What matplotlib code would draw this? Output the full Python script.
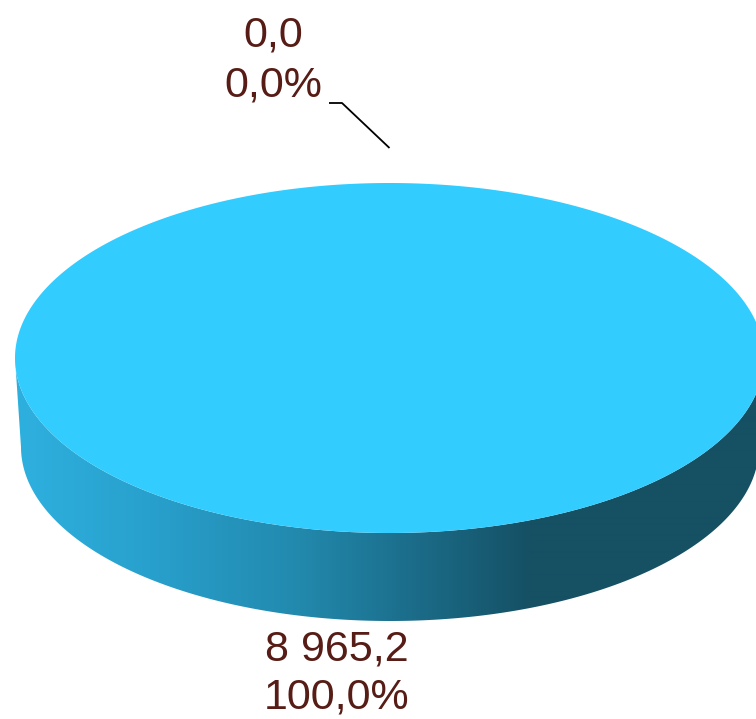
import numpy as np
import matplotlib
matplotlib.use("Agg")
import matplotlib.pyplot as plt
from matplotlib.patches import Polygon

# ---- data ----
categories = ["Slice 1", "Slice 2"]
values = [8965.2, 0.0]

def fmt_num(v):
    s = f"{v:,.1f}"
    return s.replace(",", " ").replace(".", ",")

def fmt_pct(p):
    return f"{p:.1f}%".replace(".", ",")

W, H = 756, 719
fig = plt.figure(figsize=(7.56, 7.19), dpi=100)
ax = fig.add_axes([0, 0, 1, 1])
ax.set_xlim(0, W)
ax.set_ylim(H, 0)
ax.axis("off")

# ---- geometry (pixel layout) ----
cx, cy, a, b = 389.5, 358.0, 374.5, 175.0      # top face ellipse
bcx, bcy, ba, bb = 390.0, 447.0, 369.0, 174.0  # bottom ellipse
top_color = "#33CCFF"
text_color = "#561C15"

def pt_top(th):
    r = np.radians(th)
    return cx + a * np.cos(r), cy - b * np.sin(r)

def pt_bot(th):
    r = np.radians(th)
    return bcx + ba * np.cos(r), bcy - bb * np.sin(r)

# side gradient image
stops_x = [0, 20, 150, 300, 400, 530, 756]
stops_c = np.array([(46, 176, 222), (46, 176, 222), (40, 160, 205), (34, 137, 173),
                    (28, 112, 142), (21, 80, 100), (22, 80, 99)]) / 255.0
xs = np.arange(W) + 0.5
grad = np.stack([np.interp(xs, stops_x, stops_c[:, k]) for k in range(3)], axis=-1)
grad_img = np.repeat(grad[None, :, :], 2, axis=0)

total = sum(values)
fracs = [v / total for v in values]
start = 90.0
cum = 0.0
label_specs = []
for v, f in zip(values, fracs):
    th1 = start - 360.0 * cum
    th2 = start - 360.0 * (cum + f)
    thm = (th1 + th2) / 2.0
    if f > 0:
        # side wall (front visible part: angles 180..360 -> equivalent -180..0)
        lo, hi = max(th2, -180.0), min(th1, 0.0)
        if hi > lo:
            ths = np.linspace(lo, hi, 300)
            top_arc = [pt_top(t) for t in ths]
            bot_arc = [pt_bot(t) for t in ths[::-1]]
            side = Polygon(top_arc + bot_arc, closed=True, facecolor="none",
                           edgecolor="none")
            ax.add_patch(side)
            im = ax.imshow(grad_img, extent=[0, W, H, 0], aspect="auto",
                           interpolation="bilinear", zorder=1)
            im.set_clip_path(side)
        # top face
        ths = np.linspace(th1, th2, 720)
        pts = [pt_top(t) for t in ths]
        if f < 0.9999:
            pts = [(cx, cy)] + pts
        ax.add_patch(Polygon(pts, closed=True, facecolor=top_color,
                             edgecolor="none", zorder=2))
    label_specs.append((v, f, thm))
    cum += f

# ---- labels ----
fs = 31
fam = ["Liberation Sans", "DejaVu Sans"]
for v, f, thm in label_specs:
    lines = [fmt_num(v), fmt_pct(f * 100)]
    if f > 0.5:
        lx, by = 337, [660, 709]
    else:
        ax_, ay_ = pt_top(thm)
        end = (ax_, ay_ - 35)
        ax.plot([329, 342, end[0]], [103, 103, end[1]], color="black", lw=1.3,
                solid_capstyle="butt", zorder=3)
        lx, by = 273.5, [46, 97]
    for s, y in zip(lines, by):
        ax.text(lx, y, s, ha="center", va="baseline", fontsize=fs,
                family=fam, color=text_color, zorder=4)

fig.savefig("out.png", dpi=100)
